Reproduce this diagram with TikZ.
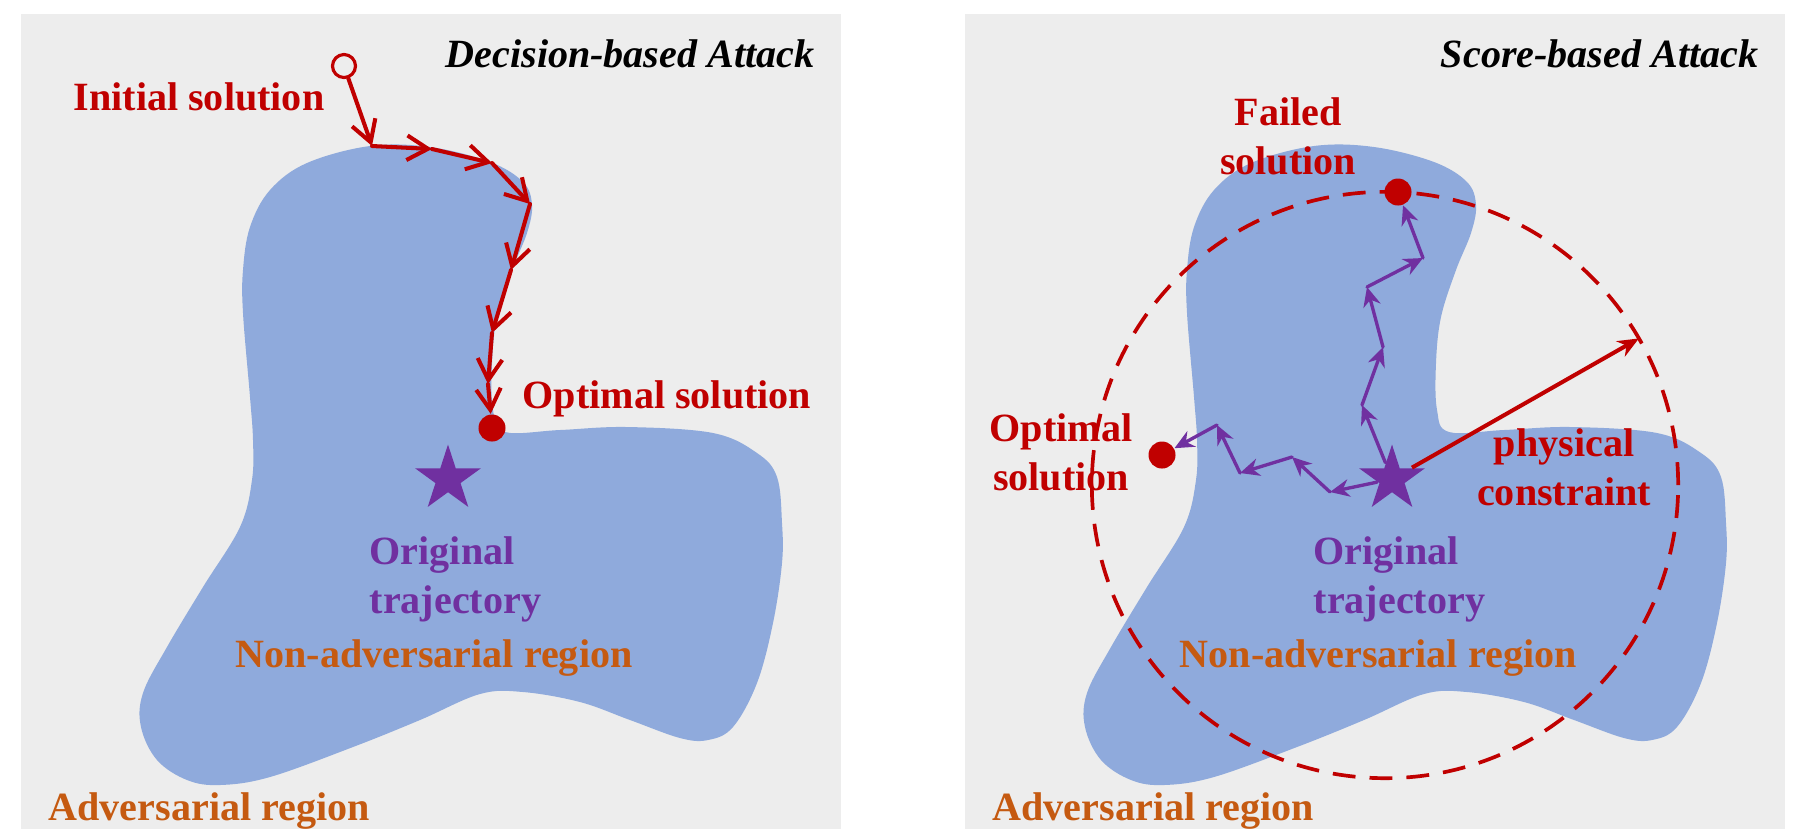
\documentclass[tikz,border=0pt]{standalone}
\usepackage{fontspec}
\setmainfont{Liberation Serif}
\usetikzlibrary{arrows.meta, shapes.geometric, calc}
\pgfdeclarelayer{background}
\pgfsetlayers{background,main}
\definecolor{panelgray}{HTML}{EDEDED}
\definecolor{regionblue}{HTML}{8FAADC}
\definecolor{solred}{HTML}{C00000}
\definecolor{trajpurple}{HTML}{7030A0}
\definecolor{regionorange}{HTML}{C55A11}
\newcommand{\LblFont}{\fontsize{11.4}{13.9}\selectfont\bfseries}
\tikzset{
    region/.pic = {
      \fill[regionblue] plot[smooth cycle, tension=0.6] coordinates {
        (370,146) (430,147) (490,162) (523,182) (532,205) (527,233) (512,270)
        (497,317) (492,363) (493,410) (505,432) (560,430) (627,427) (713,433)
        (757,453) (777,477) (782,523) (782,563) (773,623) (757,683) (733,727)
        (708,740) (680,738) (630,720) (580,702) (523,692) (480,694) (420,720)
        (353,747) (270,777) (220,785) (187,780) (157,760) (141,727) (143,693)
        (167,647) (203,587) (240,527) (252,480) (253,440) (250,397) (243,313)
        (243,270) (250,227) (270,190) (307,163)};
    },
    lbl/.style={font=\LblFont, inner sep=0pt},
    attack title/.style={font=\LblFont\itshape, inner sep=0pt},
    sol dot/.style={circle, fill=solred, inner sep=0pt, minimum size=0.27cm},
    init dot/.style={circle, draw=solred, fill=panelgray, line width=0.9pt, inner sep=0pt, minimum size=0.23cm},
    orig star/.style={star, star points=5, star point ratio=2.618, fill=trajpurple, inner sep=0pt, minimum size=0.69cm},
    dec step/.style={draw=solred, line width=1.15pt, line cap=round, -{Straight Barb[length=6pt,width=7pt]}},
    score step/.style={draw=trajpurple, line width=0.95pt, line cap=round, -{Stealth[length=5.5pt,width=5pt]}},
    limit circle/.style={draw=solred, line width=1.05pt, dash pattern=on 6.5pt off 4pt},
    limit arrow/.style={draw=solred, line width=1.15pt, -{Stealth[length=6pt,width=5pt]}},
}

\begin{document}
\begin{tikzpicture}[x=0.01cm, y=-0.01cm]
    \useasboundingbox (0,0) rectangle (1806,829);

    \begin{pgfonlayer}{background}
      \fill[panelgray] (21,14) rectangle (841,829);
      \fill[panelgray] (965,14) rectangle (1785,829);
      \pic at (0,0) {region};
      \pic at (944,0) {region};
    \end{pgfonlayer}

    % decision-based
    \node[attack title, anchor=base east] (titleL) at (815,67) {Decision-based Attack};
    \node[init dot] (init) at (344,66) {};
    \node[lbl, text=solred, anchor=base east] (initlbl) at (325,110) {Initial solution};
    \node[sol dot] (optL) at (492,428) {};
    \node[lbl, text=solred, anchor=base west] (optLlbl) at (522,408) {Optimal solution};
    \node[orig star] (origL) at (448,479) {};
    \node[lbl, text=trajpurple, align=left, anchor=north west] (origLlbl) at (369,536) {Original\\trajectory};
    \node[lbl, text=regionorange, anchor=base west] (nonadvL) at (235,667) {Non-adversarial region};
    \node[lbl, text=regionorange, anchor=base west] (advL) at (48,820) {Adversarial region};

    \coordinate (d1) at (372,146);
    \coordinate (d2) at (432,149);
    \coordinate (d3) at (492,163);
    \coordinate (d4) at (530,204);
    \coordinate (d5) at (511,270);
    \coordinate (d6) at (492,333);
    \coordinate (d7) at (488,384);
    \foreach \a/\b in {init/d1, d1/d2, d2/d3, d3/d4, d4/d5, d5/d6, d6/d7, d7/optL}
      \draw[dec step] (\a) -- (\b);

    % score-based
    \node[attack title, anchor=base east] (titleR) at (1759,67) {Score-based Attack};
    \node[lbl, text=solred, align=center, anchor=north] (faillbl) at (1288,97) {Failed\\solution};
    \node[lbl, text=solred, align=center, anchor=north] (optRlbl) at (1061,413) {Optimal\\solution};
    \node[lbl, text=solred, align=center, anchor=north] (physlbl) at (1564,428) {physical\\constraint};
    \node[lbl, text=trajpurple, align=left, anchor=north west] (origRlbl) at (1313,536) {Original\\trajectory};
    \node[lbl, text=regionorange, anchor=base west] (nonadvR) at (1179,667) {Non-adversarial region};
    \node[lbl, text=regionorange, anchor=base west] (advR) at (992,820) {Adversarial region};

    \coordinate (ctr) at (1385,485);
    \draw[limit circle] (ctr) circle[radius=2.93cm];

    \node[sol dot] (failR) at (1398,192) {};
    \node[sol dot] (optR) at (1162,455) {};
    \node[orig star] (origR) at (1392,479) {};

    \coordinate (lim) at ($(ctr)+(30:2.93cm)$);
    \draw[limit arrow] (origR) -- (lim);

    \coordinate (s1) at (1362,405);
    \coordinate (s2) at (1383,347);
    \coordinate (s3) at (1367,287);
    \coordinate (s4) at (1423,258);
    \foreach \a/\b in {origR/s1, s1/s2, s2/s3, s3/s4, s4/failR}
      \draw[score step] (\a) -- (\b);

    \coordinate (t1) at (1330,492);
    \coordinate (t2) at (1292,457);
    \coordinate (t3) at (1240,473);
    \coordinate (t4) at (1217,425);
    \foreach \a/\b in {origR/t1, t1/t2, t2/t3, t3/t4, t4/optR}
      \draw[score step] (\a) -- (\b);
\end{tikzpicture}
\end{document}
